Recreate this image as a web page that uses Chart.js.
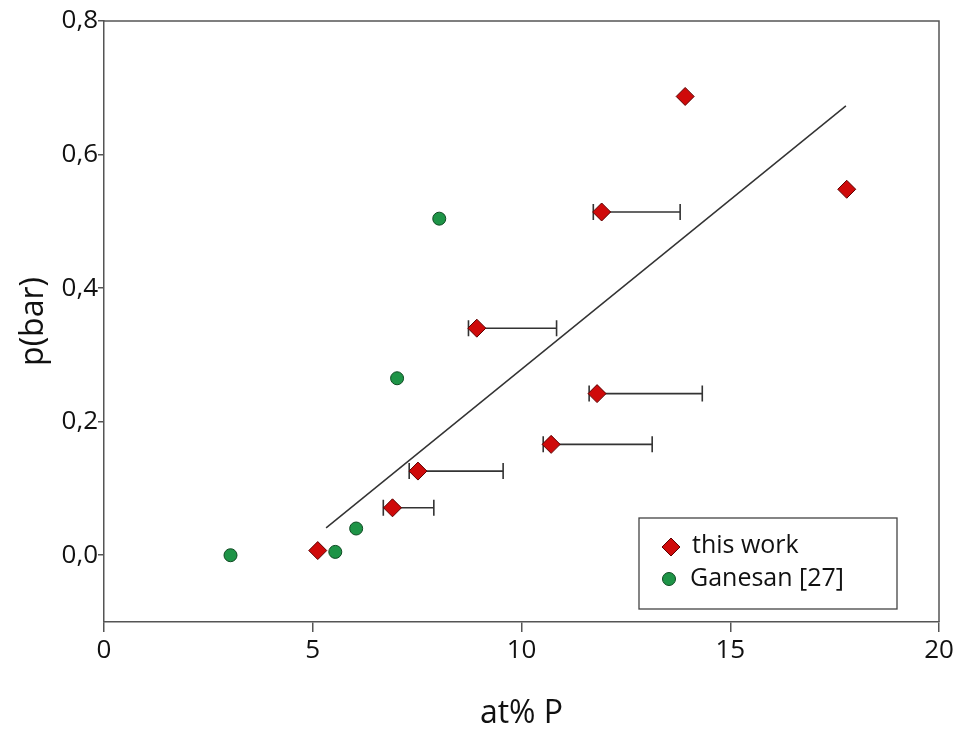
<!DOCTYPE html>
<html>
<head>
<meta charset="utf-8">
<script src="https://cdn.jsdelivr.net/npm/chart.js@4"></script>
<style>
  body { margin: 0; background: #fff; }
  canvas { display: block; }
</style>
</head>
<body>
<canvas id="chart-p" width="962" height="733"></canvas>
<script>
// this work (diamonds) with horizontal error bars
const workX = [5.12, 6.91, 7.52, 8.93, 10.71, 11.81, 11.92, 13.92, 17.79];
const workY = [0.007, 0.071, 0.126, 0.340, 0.166, 0.242, 0.514, 0.687, 0.548];
const workXLow = [null, 6.69, 7.31, 8.73, 10.52, 11.62, 11.72, null, null];
const workXHigh = [null, 7.90, 9.56, 10.84, 13.13, 14.33, 13.80, null, null];

// Ganesan [27]
const ganX = [3.03, 5.54, 6.04, 7.02, 8.03];
const ganY = [0.0, 0.005, 0.040, 0.265, 0.504];

// fitted line
const fitX = [5.32, 17.77];
const fitY = [0.041, 0.673];

const xTicks = [0, 5, 10, 15, 20];
const yTicks = [0, 0.2, 0.4, 0.6, 0.8];

const labels = ["this work", "Ganesan [27]"];

const FONT = "'Open Sans', Lato, sans-serif";
const RED = "#cf0a0a", RED_DARK = "#5c0000";
const GREEN = "#1e9447", GREEN_DARK = "#0e4a22";
const AXIS = "#555";

const toPts = (xs, ys) => xs.map((x, i) => ({ x: x, y: ys[i] }));

// error bars, box frame and legend
const extras = {
  id: "extras",
  beforeDatasetsDraw(chart) {
    const ctx = chart.ctx;
    const xs = chart.scales.x, ys = chart.scales.y;
    ctx.save();
    ctx.strokeStyle = "#333";
    ctx.lineWidth = 1.6;
    workX.forEach((x, i) => {
      if (workXLow[i] == null) return;
      const py = ys.getPixelForValue(workY[i]);
      const x1 = xs.getPixelForValue(workXLow[i]);
      const x2 = xs.getPixelForValue(workXHigh[i]);
      ctx.beginPath();
      ctx.moveTo(x1, py); ctx.lineTo(x2, py);
      ctx.moveTo(x1, py - 8); ctx.lineTo(x1, py + 8);
      ctx.moveTo(x2, py - 8); ctx.lineTo(x2, py + 8);
      ctx.stroke();
    });
    ctx.restore();
  },
  afterDraw(chart) {
    const ctx = chart.ctx;
    const a = chart.chartArea;
    ctx.save();
    // top and right frame
    ctx.strokeStyle = AXIS;
    ctx.lineWidth = 1.5;
    ctx.beginPath();
    ctx.moveTo(a.left, a.top); ctx.lineTo(a.right, a.top); ctx.lineTo(a.right, a.bottom);
    ctx.stroke();

    // legend box
    const bx = a.right - 300, by = a.bottom - 104, bw = 258, bh = 91;
    ctx.strokeStyle = "#444";
    ctx.lineWidth = 1.3;
    ctx.fillStyle = "#fff";
    ctx.fillRect(bx, by, bw, bh);
    ctx.strokeRect(bx, by, bw, bh);

    // diamond
    const dx = bx + 32, dy = by + 29;
    ctx.beginPath();
    ctx.moveTo(dx, dy - 9); ctx.lineTo(dx + 9, dy); ctx.lineTo(dx, dy + 9); ctx.lineTo(dx - 9, dy);
    ctx.closePath();
    ctx.fillStyle = RED; ctx.fill();
    ctx.strokeStyle = RED_DARK; ctx.lineWidth = 1; ctx.stroke();
    // circle
    const cx = bx + 30, cy = by + 61;
    ctx.beginPath();
    ctx.arc(cx, cy, 6.5, 0, Math.PI * 2);
    ctx.fillStyle = GREEN; ctx.fill();
    ctx.strokeStyle = GREEN_DARK; ctx.stroke();

    ctx.fillStyle = "#111";
    ctx.font = "25px " + FONT;
    ctx.textBaseline = "middle";
    ctx.fillText(labels[0], bx + 53, dy - 1);
    ctx.fillText(labels[1], bx + 51, cy);
    ctx.restore();
  }
};

const ctx = document.getElementById("chart-p");

const chartP = new Chart(ctx, {
  type: "scatter",
  data: {
    datasets: [
      {
        label: labels[0],
        data: toPts(workX, workY),
        pointStyle: "rectRot",
        pointRadius: 9,
        backgroundColor: RED,
        borderColor: RED_DARK,
        borderWidth: 1,
        order: 1,
      },
      {
        label: labels[1],
        data: toPts(ganX, ganY),
        pointStyle: "circle",
        pointRadius: 6.5,
        backgroundColor: GREEN,
        borderColor: GREEN_DARK,
        borderWidth: 1,
        order: 2,
      },
      {
        type: "line",
        label: "fit",
        data: toPts(fitX, fitY),
        borderColor: "#333",
        borderWidth: 1.5,
        pointRadius: 0,
        fill: false,
        order: 3,
      },
    ],
  },
  options: {
    responsive: false,
    animation: false,
    layout: { padding: { top: 21, right: 23, bottom: 0, left: 0 } },
    plugins: {
      legend: { display: false },
      tooltip: { enabled: false },
    },
    scales: {
      x: {
        type: "linear",
        min: 0,
        max: 20,
        afterBuildTicks: (s) => { s.ticks = xTicks.map((v) => ({ value: v })); },
        afterFit: (s) => { s.height = 111; },
        border: { color: AXIS, width: 1.5 },
        grid: { drawOnChartArea: false, color: AXIS, lineWidth: 1.5, tickLength: 10 },
        ticks: { color: "#111", font: { family: FONT, size: 26 }, padding: 3, maxRotation: 0 },
        title: {
          display: true,
          text: "at% P",
          color: "#111",
          font: { family: FONT, size: 32 },
          padding: { top: 0, bottom: 0 },
        },
      },
      y: {
        type: "linear",
        min: -0.1,
        max: 0.8,
        afterBuildTicks: (s) => { s.ticks = yTicks.map((v) => ({ value: v })); },
        afterFit: (s) => { s.width = 104; },
        border: { color: AXIS, width: 1.5 },
        grid: { drawOnChartArea: false, color: AXIS, lineWidth: 1.5, tickLength: 6 },
        ticks: {
          color: "#111",
          font: { family: FONT, size: 26 },
          padding: 0,
          callback: (v) => v.toFixed(1).replace(".", ","),
        },
        title: {
          display: true,
          text: "p(bar)",
          color: "#111",
          font: { family: FONT, size: 32 },
          padding: { top: 15, bottom: 0 },
        },
      },
    },
  },
  plugins: [extras],
});
</script>
</body>
</html>
